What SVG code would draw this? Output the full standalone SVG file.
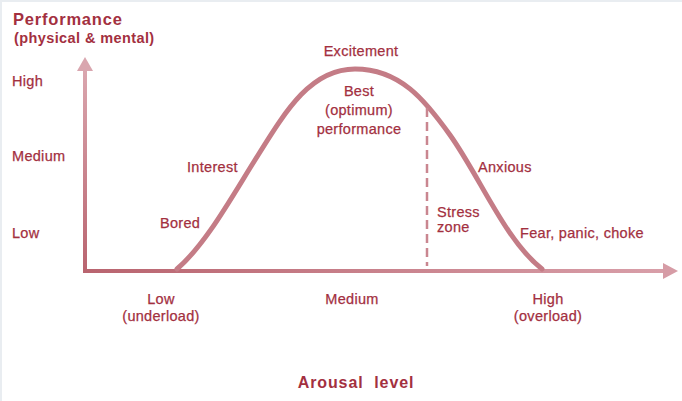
<svg xmlns="http://www.w3.org/2000/svg" width="682" height="401" viewBox="0 0 682 401">
  <style>
    .lbl { font-family: "Liberation Sans", Arial, sans-serif; font-size: 14.5px; letter-spacing: 0.3px; fill: #a3303f; stroke: #a3303f; stroke-width: 0.25px; }
    .c { text-anchor: middle; }
    .b { font-weight: bold; stroke-width: 0; }
    .curve { fill: none; stroke: #c47c86; stroke-width: 5; stroke-linecap: round; }
    .dash { fill: none; stroke: #c98690; stroke-width: 2.5; stroke-dasharray: 9 5; }
  </style>
  <defs>
    <linearGradient id="gy" gradientUnits="userSpaceOnUse" x1="0" y1="272" x2="0" y2="58">
      <stop offset="0" stop-color="#b9646f"/>
      <stop offset="1" stop-color="#dcaab2"/>
    </linearGradient>
    <linearGradient id="gx" gradientUnits="userSpaceOnUse" x1="84" y1="0" x2="678" y2="0">
      <stop offset="0" stop-color="#b9646f"/>
      <stop offset="1" stop-color="#d9a0aa"/>
    </linearGradient>
  </defs>
  <rect x="0" y="0" width="682" height="401" fill="#e9edf1"/>
  <rect x="2" y="2" width="680" height="399" fill="#ffffff"/>

  <g id="connectors">
    <line x1="85" y1="273" x2="85" y2="68" stroke="url(#gy)" stroke-width="4"/>
    <polygon points="85,57 93,71 77,71" fill="#d9a6af"/>
    <line x1="83" y1="271" x2="665" y2="271" stroke="url(#gx)" stroke-width="4"/>
    <polygon points="678,271 663,263 663,279" fill="#d69ca6"/>
    <path id="curve" class="curve" d="M177,269 C205,245 230,200 255,160 C285,112 310,69 355,69 C400,69 425,100 450,135 C480,177 505,240 542,269"/>
    <line id="stress-line" class="dash" x1="427" y1="108" x2="427" y2="266"/>
  </g>

  <g id="y-title">
    <text class="lbl b" x="13" y="25" style="font-size:16.5px;letter-spacing:0.8px">Performance</text>
    <text class="lbl b" x="14" y="43" style="font-size:14.5px;letter-spacing:0.4px">(physical &amp; mental)</text>
  </g>
  <g id="y-high"><text class="lbl" x="12" y="86">High</text></g>
  <g id="y-medium"><text class="lbl" x="12" y="161">Medium</text></g>
  <g id="y-low"><text class="lbl" x="12" y="238">Low</text></g>

  <g id="excitement"><text class="lbl c" x="361" y="56">Excitement</text></g>
  <g id="best">
    <text class="lbl c" x="359" y="96">Best</text>
    <text class="lbl c" x="359" y="115">(optimum)</text>
    <text class="lbl c" x="359" y="134">performance</text>
  </g>
  <g id="interest"><text class="lbl" x="187" y="172">Interest</text></g>
  <g id="bored"><text class="lbl" x="160" y="228">Bored</text></g>
  <g id="anxious"><text class="lbl" x="478" y="172">Anxious</text></g>
  <g id="stress">
    <text class="lbl" x="437" y="217">Stress</text>
    <text class="lbl" x="437" y="232">zone</text>
  </g>
  <g id="fear"><text class="lbl" x="520" y="238">Fear, panic, choke</text></g>

  <g id="x-low">
    <text class="lbl c" x="161" y="304">Low</text>
    <text class="lbl c" x="161" y="321">(underload)</text>
  </g>
  <g id="x-medium"><text class="lbl c" x="352" y="304">Medium</text></g>
  <g id="x-high">
    <text class="lbl c" x="548" y="304">High</text>
    <text class="lbl c" x="548" y="321">(overload)</text>
  </g>
  <g id="x-title"><text class="lbl c b" x="356" y="388" style="font-size:16px;letter-spacing:0.9px;white-space:pre">Arousal  level</text></g>
</svg>
